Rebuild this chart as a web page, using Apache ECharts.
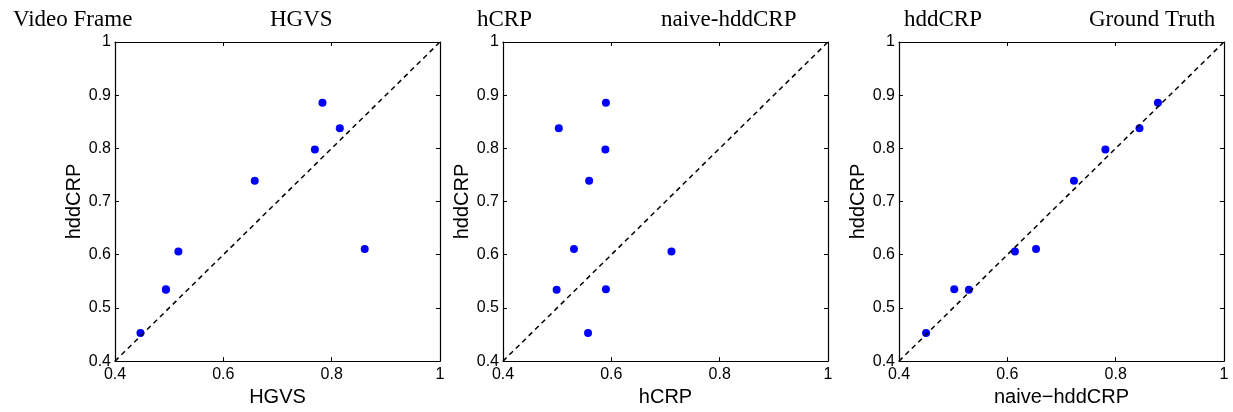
<!DOCTYPE html>
<html>
<head>
<meta charset="utf-8">
<script src="https://cdn.jsdelivr.net/npm/echarts@6/dist/echarts.min.js"></script>
<style>html,body{margin:0;padding:0;background:#fff}#c{width:1233px;height:412px}</style>
</head>
<body>
<div id="c"></div>
<script>
// hddCRP score per video (y of every panel)
var hddCRP      = [0.453, 0.535, 0.534, 0.606, 0.611, 0.739, 0.798, 0.838, 0.886];
// comparison methods (x of each panel)
var HGVS        = [0.447, 0.494, 0.494, 0.517, 0.861, 0.658, 0.769, 0.815, 0.783];
var hCRP        = [0.557, 0.590, 0.499, 0.711, 0.531, 0.559, 0.589, 0.503, 0.590];
var naiveHddCRP = [0.450, 0.502, 0.529, 0.614, 0.653, 0.723, 0.781, 0.844, 0.878];
var xNames = ['HGVS', 'hCRP', 'naive\u2212hddCRP'];
var yName = 'hddCRP';
var titlesLeft = ['Video Frame', 'hCRP', 'hddCRP'];
var titlesRight = ['HGVS', 'naive-hddCRP', 'Ground Truth'];
var diag = [0.4, 1];

var panels = [HGVS, hCRP, naiveHddCRP];
var gridLeft = [115, 503, 899];
var titleLeftX = [8, 472, 899];
var titleRightX = [265, 656, 1084];

var sans = 'Liberation Sans';
var serif = 'Liberation Serif';
var grids = [], xAxes = [], yAxes = [], series = [], titles = [];

panels.forEach(function (xs, i) {
  grids.push({left: gridLeft[i], top: 42, width: 325, height: 325, containLabel: false});
  var axLine = {show: true, lineStyle: {color: '#000', width: 1.2}};
  var tick = {show: true, inside: true, length: 4, lineStyle: {color: '#000', width: 1}};
  xAxes.push({
    type: 'value', gridIndex: i, min: 0.4, max: 1, interval: 0.2, position: 'bottom',
    name: xNames[i], nameLocation: 'middle', nameGap: 22,
    nameTextStyle: {fontFamily: sans, fontSize: 20, color: '#000'},
    axisLine: axLine, axisTick: tick, splitLine: {show: false},
    axisLabel: {fontFamily: sans, fontSize: 16, color: '#000', margin: 5}
  });
  xAxes.push({
    type: 'value', gridIndex: i, min: 0.4, max: 1, interval: 0.2, position: 'top',
    axisLine: axLine, axisTick: tick, splitLine: {show: false}, axisLabel: {show: false}
  });
  yAxes.push({
    type: 'value', gridIndex: i, min: 0.4, max: 1, interval: 0.1, position: 'left',
    name: yName, nameLocation: 'middle', nameGap: 31, nameRotate: 90,
    nameTextStyle: {fontFamily: sans, fontSize: 20, color: '#000'},
    axisLine: axLine, axisTick: tick, splitLine: {show: false},
    axisLabel: {fontFamily: sans, fontSize: 16, color: '#000', margin: 4}
  });
  yAxes.push({
    type: 'value', gridIndex: i, min: 0.4, max: 1, interval: 0.1, position: 'right',
    axisLine: axLine, axisTick: tick, splitLine: {show: false}, axisLabel: {show: false}
  });
  series.push({
    type: 'line', xAxisIndex: 2 * i, yAxisIndex: 2 * i,
    data: [[diag[0], diag[0]], [diag[1], diag[1]]],
    showSymbol: false, symbol: 'none', silent: true, animation: false,
    lineStyle: {color: '#000', width: 1.5, type: [5, 4]}
  });
  series.push({
    type: 'scatter', xAxisIndex: 2 * i, yAxisIndex: 2 * i,
    data: xs.map(function (v, k) { return [v, hddCRP[k]]; }),
    symbol: 'circle', symbolSize: 8, animation: false,
    itemStyle: {color: '#0000ff', opacity: 1}
  });
  titles.push({text: titlesLeft[i], left: titleLeftX[i], top: 3,
    textStyle: {fontFamily: serif, fontSize: 23, fontWeight: 'normal', color: '#000'}});
  titles.push({text: titlesRight[i], left: titleRightX[i], top: 3,
    textStyle: {fontFamily: serif, fontSize: 23, fontWeight: 'normal', color: '#000'}});
});

var chart = echarts.init(document.getElementById('c'), null, {renderer: 'canvas'});
chart.setOption({
  backgroundColor: '#fff',
  animation: false,
  title: titles,
  grid: grids,
  xAxis: xAxes,
  yAxis: yAxes,
  series: series
});
</script>
</body>
</html>
